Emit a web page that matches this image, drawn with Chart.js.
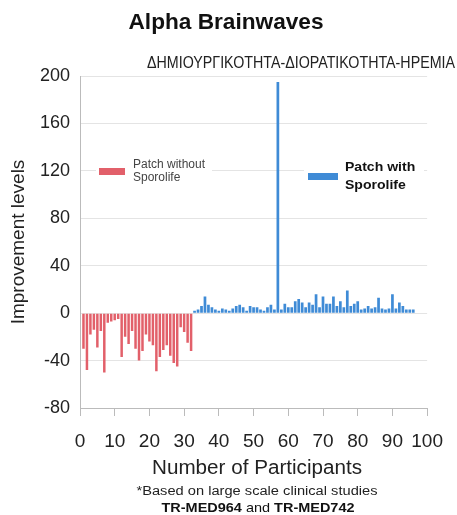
<!DOCTYPE html>
<html><head><meta charset="utf-8">
<script src="https://cdn.jsdelivr.net/npm/chart.js@4"></script>
<style>html,body{margin:0;padding:0;background:#fff}#wrap{width:457px;height:515px;position:relative}</style>
</head><body><div id="wrap"><canvas id="c" width="457" height="515"></canvas></div>
<script>
// ---- data ----
const withoutParticipants = [1,2,3,4,5,6,7,8,9,10,11,12,13,14,15,16,17,18,19,20,21,22,23,24,25,26,27,28,29,30,31,32];
const withoutValues = [-30,-48,-18,-14,-29,-15,-50,-8,-7,-6,-5,-37,-20,-26,-15,-30,-40,-32,-18,-24,-27,-49,-37,-31,-27,-36,-42,-45,-12,-16,-25,-32];
const withParticipants = [33,34,35,36,37,38,39,40,41,42,43,44,45,46,47,48,49,50,51,52,53,54,55,56,57,58,59,60,61,62,63,64,65,66,67,68,69,70,71,72,73,74,75,76,77,78,79,80,81,82,83,84,85,86,87,88,89,90,91,92,93,94,95,96];
const withValues = [2,3,6,14,7,5,3,2,4,3,2,4,6,7,5,2,6,5,5,3,2,5,7,3,195,3,8,5,5,10,12,9,5,9,7,16,5,14,8,8,14,6,10,5,19,6,8,10,3,4,6,4,5,13,4,3,4,16,4,9,6,3,3,3];
const xTickValues = [0,10,20,30,40,50,60,70,80,90,100];
const yTickValues = [-80,-40,0,40,80,120,160,200];
const seriesNames = ['Patch without Sporolife', 'Patch with Sporolife'];
const legendLines = [['Patch without', 'Sporolife'], ['Patch with', 'Sporolife']];
const titleText = 'Alpha Brainwaves';
const subtitleText = 'ΔΗΜΙΟΥΡΓΙΚΟΤΗΤΑ-ΔΙΟΡΑΤΙΚΟΤΗΤΑ-ΗΡΕΜΙΑ';
const xTitle = 'Number of Participants';
const yTitle = 'Improvement levels';
const noteLine1 = '*Based on large scale clinical studies';
const noteLine2 = [['TR-MED964', true], [' and ', false], ['TR-MED742', true]];

const RED = '#e2606a', BLUE = '#3f8bd6';
const FONT = '"Liberation Sans", Arial, sans-serif';

function stretchText(ctx, text, cx, cy, font, color, targetW) {
  ctx.save();
  ctx.font = font; ctx.fillStyle = color;
  ctx.textAlign = 'center'; ctx.textBaseline = 'middle';
  const w = ctx.measureText(text).width;
  const sx = targetW ? targetW / w : 1;
  ctx.translate(cx, cy); ctx.scale(sx, 1);
  ctx.fillText(text, 0, 0);
  ctx.restore();
}

const textPlugin = {
  id: 'texts',
  afterDraw(chart) {
    const ctx = chart.ctx;
    stretchText(ctx, titleText, 226, 23, 'bold 22px ' + FONT, '#111', 195);
    stretchText(ctx, subtitleText, 301, 63, '17px ' + FONT, '#222', 308);
    stretchText(ctx, xTitle, 257, 468, '20px ' + FONT, '#222', 210);
    stretchText(ctx, noteLine1, 257, 492, '12px ' + FONT, '#222', 241);
    // mixed line
    ctx.save();
    ctx.textBaseline = 'middle'; ctx.textAlign = 'left'; ctx.fillStyle = '#111';
    let total = 0;
    const parts = noteLine2.map(([t, b]) => { ctx.font = (b ? 'bold ' : '') + '13px ' + FONT; const w = ctx.measureText(t).width; total += w; return [t, b, w]; });
    const sx = 193 / total;
    ctx.translate(258 - 193 / 2, 508); ctx.scale(sx, 1);
    let x = 0;
    parts.forEach(([t, b, w]) => { ctx.font = (b ? 'bold ' : '') + '13px ' + FONT; ctx.fillText(t, x, 0); x += w; });
    ctx.restore();
    // legend
    const ds = chart.data.datasets;
    ctx.save();
    ctx.fillStyle = '#fff';
    ctx.fillRect(96, 158, 116, 28);
    ctx.fillRect(304, 158, 120, 36);
    ctx.fillStyle = ds[0].backgroundColor; ctx.fillRect(99, 168, 26, 7);
    ctx.fillStyle = ds[1].backgroundColor; ctx.fillRect(308, 173, 30, 7);
    ctx.textAlign = 'left'; ctx.textBaseline = 'middle';
    ctx.fillStyle = '#444'; ctx.font = '12px ' + FONT;
    ctx.fillText(legendLines[0][0], 133, 165);
    ctx.fillText(legendLines[0][1], 133, 178);
    ctx.fillStyle = '#111'; ctx.font = 'bold 13px ' + FONT;
    ctx.save(); ctx.translate(345, 167); ctx.scale(1.08, 1); ctx.fillText(legendLines[1][0], 0, 0); ctx.restore();
    ctx.save(); ctx.translate(345, 185); ctx.scale(1.08, 1); ctx.fillText(legendLines[1][1], 0, 0); ctx.restore();
    ctx.restore();
  }
};

new Chart(document.getElementById('c'), {
  type: 'bar',
  data: {
    datasets: [
      { label: seriesNames[0], data: withoutParticipants.map((p, i) => ({ x: p, y: withoutValues[i] })), backgroundColor: RED,
        barPercentage: 0.72, categoryPercentage: 1 },
      { label: seriesNames[1], data: withParticipants.map((p, i) => ({ x: p, y: withValues[i] })), backgroundColor: BLUE,
        barPercentage: 0.78, categoryPercentage: 1 }
    ]
  },
  options: {
    responsive: false, animation: false, devicePixelRatio: 1,
    layout: { padding: { top: 76, right: 20, bottom: 0, left: 0 } },
    plugins: { legend: { display: false }, title: { display: false }, tooltip: { enabled: false } },
    datasets: { bar: { grouped: false } },
    scales: {
      x: {
        type: 'linear', min: 0, max: 100, offset: false,
        afterBuildTicks: s => { s.ticks = xTickValues.map(v => ({ value: v })); },
        afterFit: s => { s.height = 107; },
        ticks: { font: { size: 19, family: FONT }, color: '#222', padding: 14, maxRotation: 0, autoSkip: false },
        grid: { drawOnChartArea: false, drawTicks: true, tickLength: 8, color: '#bbb', offset: false },
        border: { display: true, color: '#bbb' }
      },
      y: {
        min: -80, max: 200,
        afterBuildTicks: s => { s.ticks = yTickValues.map(v => ({ value: v })); },
        afterFit: s => { s.width = 80; },
        ticks: { font: { size: 18, family: FONT }, color: '#222', padding: 10 },
        grid: { color: '#e4e4e4', drawTicks: false },
        border: { display: true, color: '#bbb' },
        title: { display: true, text: yTitle, font: { size: 19, family: FONT }, color: '#222', padding: { top: 7 } }
      }
    }
  },
  plugins: [textPlugin]
});
</script></body></html>
